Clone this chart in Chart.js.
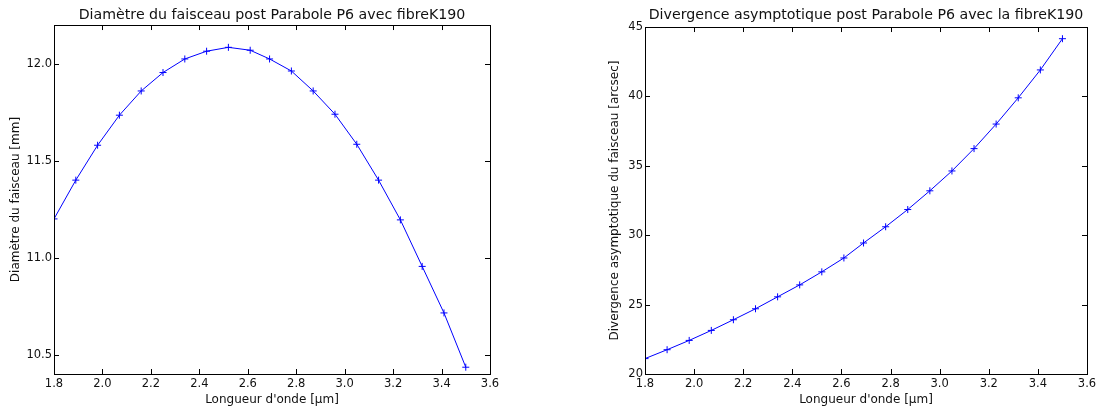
<!DOCTYPE html>
<html>
<head>
<meta charset="utf-8">
<script src="https://cdn.jsdelivr.net/npm/chart.js@4/dist/chart.umd.min.js"></script>
<style>
  html, body { margin: 0; padding: 0; background: #fff; }
  .panel { position: absolute; top: 0; width: 557px; height: 410px; }
  #panelLeft { left: 0; }
  #panelRight { left: 557px; }
</style>
</head>
<body>
<div class="panel" id="panelLeft"><canvas id="diametreChart" width="557" height="410"></canvas></div>
<div class="panel" id="panelRight"><canvas id="divergenceChart" width="557" height="410"></canvas></div>
<script>
(function () {
  'use strict';

  // -- Data --
  var LAMBDA = [1.80, 1.89, 1.98, 2.07, 2.16, 2.25, 2.34, 2.43, 2.52, 2.61,
                2.69, 2.78, 2.87, 2.96, 3.05, 3.14, 3.23, 3.32, 3.41, 3.50];
  var DIAMETRE = [11.20, 11.40, 11.58, 11.735, 11.86, 11.955, 12.025, 12.065, 12.085, 12.07,
                  12.025, 11.963, 11.86, 11.74, 11.585, 11.40, 11.195, 10.955, 10.715, 10.435];
  var DIVERGENCE = [21.11, 21.75, 22.42, 23.14, 23.91, 24.70, 25.56, 26.42, 27.36, 28.36,
                    29.44, 30.61, 31.85, 33.20, 34.63, 36.24, 38.01, 39.90, 41.91, 44.16];

  var X_TICKS = [1.8, 2.0, 2.2, 2.4, 2.6, 2.8, 3.0, 3.2, 3.4, 3.6];
  var LEFT_Y_TICKS = [10.5, 11.0, 11.5, 12.0];
  var RIGHT_Y_TICKS = [20, 25, 30, 35, 40, 45];

  var LINE_COLOR = '#0000ff';
  var TEXT_COLOR = '#111111';

  Chart.defaults.font.family = "'DejaVu Sans', sans-serif";
  Chart.defaults.font.size = 11.5;
  Chart.defaults.color = TEXT_COLOR;

  // -- Frame + inward ticks on all four sides (matplotlib classic look) --
  var frameTicks = {
    id: 'frameTicks',
    afterDraw: function (chart) {
      var c = chart.ctx;
      var a = chart.chartArea;
      var len = 5;
      c.save();
      c.strokeStyle = '#000';
      c.lineWidth = 1;
      c.beginPath();
      chart.scales.x.ticks.forEach(function (t) {
        var px = Math.round(chart.scales.x.getPixelForValue(t.value)) + 0.5;
        c.moveTo(px, a.bottom); c.lineTo(px, a.bottom - len);
        c.moveTo(px, a.top); c.lineTo(px, a.top + len);
      });
      chart.scales.y.ticks.forEach(function (t) {
        var py = Math.round(chart.scales.y.getPixelForValue(t.value)) + 0.5;
        c.moveTo(a.left, py); c.lineTo(a.left + len, py);
        c.moveTo(a.right, py); c.lineTo(a.right - len, py);
      });
      c.stroke();
      c.strokeRect(Math.round(a.left) + 0.5, Math.round(a.top) + 0.5,
                   Math.round(a.right - a.left), Math.round(a.bottom - a.top));
      c.restore();
    }
  };

  function points(xs, ys) {
    return xs.map(function (x, i) { return { x: x, y: ys[i] }; });
  }

  function fixedTicks(values) {
    return function (scale) {
      scale.ticks = values.map(function (v) { return { value: v }; });
    };
  }

  function makeChart(id, opts) {
    var ctx = document.getElementById(id);
    return new Chart(ctx, {
      type: 'line',
      data: {
        datasets: [{
          data: points(LAMBDA, opts.values),
          borderColor: LINE_COLOR,
          backgroundColor: LINE_COLOR,
          borderWidth: 1,
          pointStyle: 'cross',
          pointRadius: 3.5,
          pointBorderWidth: 1,
          pointBorderColor: LINE_COLOR,
          tension: 0,
          fill: false,
        }]
      },
      options: {
        responsive: false,
        animation: false,
        devicePixelRatio: 1,
        layout: { padding: opts.padding },
        plugins: {
          legend: { display: false },
          tooltip: { enabled: false },
          title: {
            display: true,
            text: opts.title,
            fullSize: false,
            color: TEXT_COLOR,
            font: { size: 14.2, weight: 'normal' },
            padding: opts.titlePadding,
          },
        },
        scales: {
          x: {
            type: 'linear',
            min: 1.8,
            max: 3.6,
            afterBuildTicks: fixedTicks(X_TICKS),
            afterFit: function (s) { s.height = 36; },
            grid: { display: false, drawTicks: false },
            border: { display: false },
            ticks: {
              padding: 3,
              autoSkip: false,
              maxRotation: 0,
              callback: function (v) { return v.toFixed(1); }
            },
            title: {
              display: true,
              text: "Longueur d'onde [\u03bcm]",
              font: { size: 12 },
              padding: { top: 0, bottom: 3 },
            },
          },
          y: {
            type: 'linear',
            min: opts.yMin,
            max: opts.yMax,
            afterBuildTicks: fixedTicks(opts.yTicks),
            afterFit: function (s) { s.width = opts.yWidth; },
            grid: { display: false, drawTicks: false },
            border: { display: false },
            ticks: {
              padding: 2,
              autoSkip: false,
              callback: opts.yFormat
            },
            title: {
              display: true,
              text: opts.yTitle,
              font: { size: 12 },
              padding: { top: opts.yTitleOffset, bottom: 0 },
            },
          },
        },
      },
      plugins: [frameTicks]
    });
  }

  // =============================================
  // 1. Beam diameter
  // =============================================
  makeChart('diametreChart', {
    values: DIAMETRE,
    title: 'Diamètre du faisceau post Parabole P6 avec fibreK190',
    titlePadding: { top: 7, bottom: 1 },
    padding: { left: 0, right: 67, top: 0, bottom: 0 },
    yMin: 10.4,
    yMax: 12.2,
    yTicks: LEFT_Y_TICKS,
    yWidth: 54,
    yTitle: 'Diamètre du faisceau [mm]',
    yTitleOffset: 9,
    yFormat: function (v) { return v.toFixed(1); }
  });

  // =============================================
  // 2. Asymptotic divergence
  // =============================================
  makeChart('divergenceChart', {
    values: DIVERGENCE,
    title: 'Divergence asymptotique post Parabole P6 avec la fibreK190',
    titlePadding: { top: 7, bottom: 3 },
    padding: { left: 40, right: 27, top: 0, bottom: 0 },
    yMin: 20,
    yMax: 45,
    yTicks: RIGHT_Y_TICKS,
    yWidth: 48,
    yTitle: 'Divergence asymptotique du faisceau [arcsec]',
    yTitleOffset: 11,
    yFormat: function (v) { return String(v); }
  });
})();
</script>
</body>
</html>
